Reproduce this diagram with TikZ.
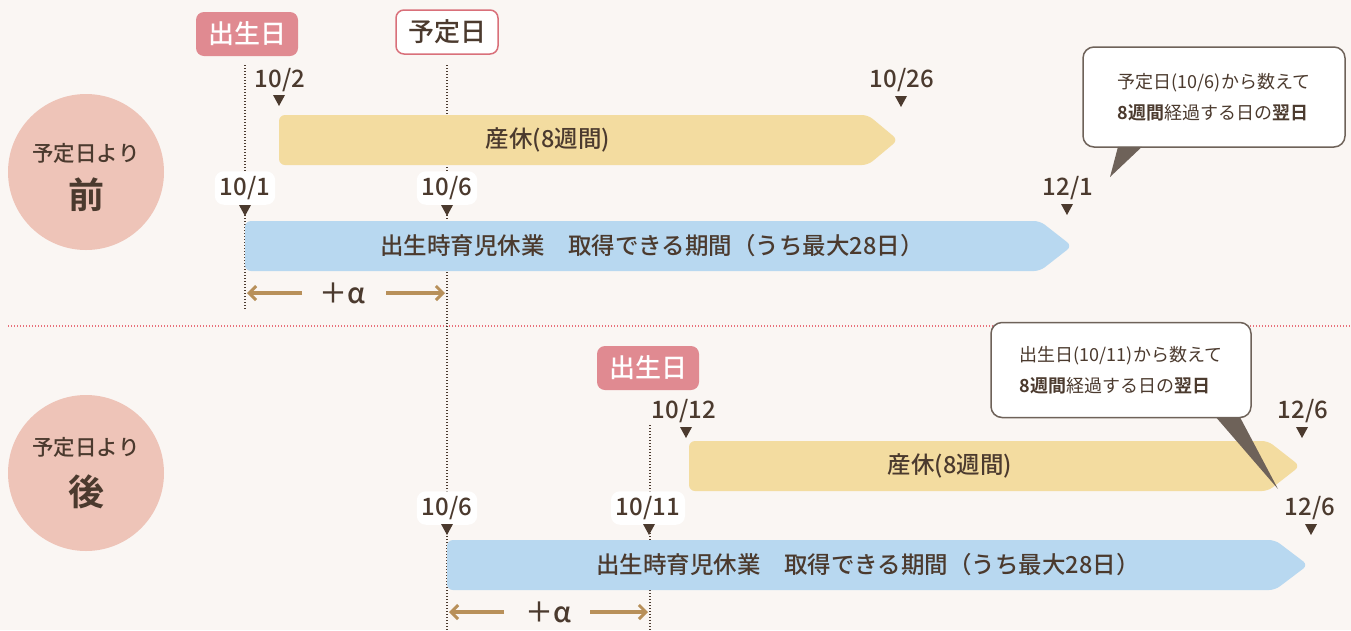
\documentclass[tikz,border=0pt]{standalone}
\usepackage{fontspec}
\setmainfont{Noto Sans CJK JP}[UprightFont={Noto Sans CJK JP Medium}, BoldFont={Noto Sans CJK JP Bold}]
\newfontfamily\callf{Noto Sans CJK JP}[BoldFont={Noto Sans CJK JP Bold}]
\usetikzlibrary{arrows.meta}
\definecolor{bg}{HTML}{FAF6F3}
\definecolor{tc}{HTML}{4B3A2E}
\definecolor{pinkbox}{HTML}{E08A91}
\definecolor{pinkline}{HTML}{D9707A}
\definecolor{circc}{HTML}{EEC4B8}
\definecolor{yel}{HTML}{F3DCA0}
\definecolor{blu}{HTML}{B8D8F0}
\definecolor{arrc}{HTML}{B8905A}
\definecolor{cbord}{HTML}{6E6259}
\definecolor{sep}{HTML}{E8707A}
\newcommand\dtri[2]{\fill[tc] (#1-6,#2-6) -- (#1+6,#2-6) -- (#1,#2+5) -- cycle;}
\begin{document}
\begin{tikzpicture}[x=1pt,y=-1pt,
  txt/.style={text=tc, inner sep=0pt},
  date/.style={txt, font=\fontsize{24}{24}\selectfont},
  datew/.style={date, fill=white, rounded corners=9pt, inner xsep=5pt, inner ysep=5pt},
  tag/.style={rounded corners=8pt, minimum width=102pt, minimum height=44pt, inner sep=0pt, font=\fontsize{26}{26}\selectfont},
  birth/.style={tag, fill=pinkbox, text=white},
  due/.style={tag, fill=white, draw=pinkline, line width=1.5pt, text=tc},
  vline/.style={draw=tc, line width=1.6pt, dash pattern=on 1.4pt off 1.6pt},
  bartxt/.style={txt, font=\fontsize{23.5}{23.5}\selectfont},
  arr/.style={draw=arrc, line width=3.5pt, -{Straight Barb[length=7pt,width=14pt,line width=3pt]}},
  alpha/.style={txt, font=\fontsize{28}{28}\selectfont},
  callout/.style={draw=cbord, line width=1.5pt, fill=white, rounded corners=11pt, align=left, text=tc, inner sep=0pt, font=\callf\fontsize{18}{31}\selectfont},
  circ/.style={circle, fill=circc, minimum size=156pt, inner sep=0pt},
  ctxt/.style={txt, font=\fontsize{21.5}{21.5}\selectfont},
  cbig/.style={txt, font=\fontsize{36}{36}\selectfont\bfseries}
]
\useasboundingbox (0,0) rectangle (1351,630);
\fill[bg] (0,0) rectangle (1351,630);

% separator
\draw[sep, line width=1.6pt, dash pattern=on 1.4pt off 1.6pt] (8,326) -- (1351,326);

% circles
\node[circ] (c1) at (86,172) {};
\node[ctxt] (c1a) at (86,153) {予定日より};
\node[cbig] (c1b) at (86,195) {前};
\node[circ] (c2) at (86,473) {};
\node[ctxt] (c2a) at (86,447) {予定日より};
\node[cbig] (c2b) at (86,492) {後};

% vertical dotted lines
\coordinate (v1t) at (245,65); \coordinate (v1b) at (245,310);
\coordinate (v2t) at (447,65); \coordinate (v2b) at (447,630);
\coordinate (v3t) at (650,425); \coordinate (v3b) at (650,630);
\draw[vline] (v1t) -- (v1b);
\draw[vline] (v2t) -- (v2b);
\draw[vline] (v3t) -- (v3b);

% ===== top section =====
\node[birth] (b1) at (247,34) {出生日};
\node[due] (d1) at (447,32) {予定日};

\node[date] (t102) at (280,80) {10/2};
\dtri{279}{101}
\node[date] (t1026) at (902,80) {10/26};
\dtri{901}{102}

\fill[yel, rounded corners=6pt] (279,115) -- (868,115) -- (898,140) -- (868,165) -- (279,165) -- cycle;
\node[bartxt] (y1) at (548,140) {産休(8週間)};

\node[datew] (t101) at (245,188) {10/1};
\dtri{245}{211}
\node[datew] (t106) at (447,188) {10/6};
\dtri{447}{211}
\node[date] (t121) at (1068,188) {12/1};
\dtri{1067}{210}

\fill[blu, rounded corners=6pt] (245,221) -- (1040,221) -- (1072,246) -- (1040,271) -- (245,271) -- cycle;
\node[bartxt] (bl1) at (652,246) {出生時育児休業　取得できる期間（うち最大28日）};

\node[alpha] (a1) at (342,293) {＋α};
\coordinate (a1l) at (302,293); \coordinate (a1le) at (247,293);
\coordinate (a1r) at (386,293); \coordinate (a1re) at (445,293);
\draw[arr] (a1l) -- (a1le);
\draw[arr] (a1r) -- (a1re);

\node[callout, minimum width=262pt, minimum height=100pt] (co1) at (1214,97) {予定日(10/6)から数えて\\\textbf{8週間}経過する日の\textbf{翌日}};
\coordinate (co1p) at (1110,177);
\fill[cbord] ([xshift=-96pt,yshift=1pt]co1.south) -- ([xshift=-72pt,yshift=1pt]co1.south) -- (co1p) -- cycle;

% ===== bottom section =====
\node[birth] (b2) at (648,368) {出生日};

\node[date] (t1012) at (684,411) {10/12};
\dtri{686}{433}
\node[date] (t126a) at (1303,411) {12/6};
\dtri{1302}{433}

\fill[yel, rounded corners=6pt] (689,441) -- (1268,441) -- (1300,466) -- (1268,491) -- (689,491) -- cycle;
\node[bartxt] (y2) at (950,466) {産休(8週間)};

\node[datew] (t106b) at (447,508) {10/6};
\dtri{447}{530}
\node[datew] (t1011) at (648,508) {10/11};
\dtri{649}{530}
\node[date] (t126b) at (1310,508) {12/6};
\dtri{1311}{530}

\fill[blu, rounded corners=6pt] (447,540) -- (1275,540) -- (1308,565) -- (1275,590) -- (447,590) -- cycle;
\node[bartxt] (bl2) at (868,565) {出生時育児休業　取得できる期間（うち最大28日）};

\node[alpha] (a2) at (548,612) {＋α};
\coordinate (a2l) at (504,612); \coordinate (a2le) at (449,612);
\coordinate (a2r) at (590,612); \coordinate (a2re) at (648,612);
\draw[arr] (a2l) -- (a2le);
\draw[arr] (a2r) -- (a2re);

\node[callout, minimum width=260pt, minimum height=95pt] (co2) at (1121,370) {出生日(10/11)から数えて\\\textbf{8週間}経過する日の\textbf{翌日}};
\coordinate (co2p) at (1278,489);
\fill[cbord] ([xshift=95pt,yshift=1pt]co2.south) -- ([xshift=119pt,yshift=1pt]co2.south) -- (co2p) -- cycle;

\end{tikzpicture}
\end{document}
